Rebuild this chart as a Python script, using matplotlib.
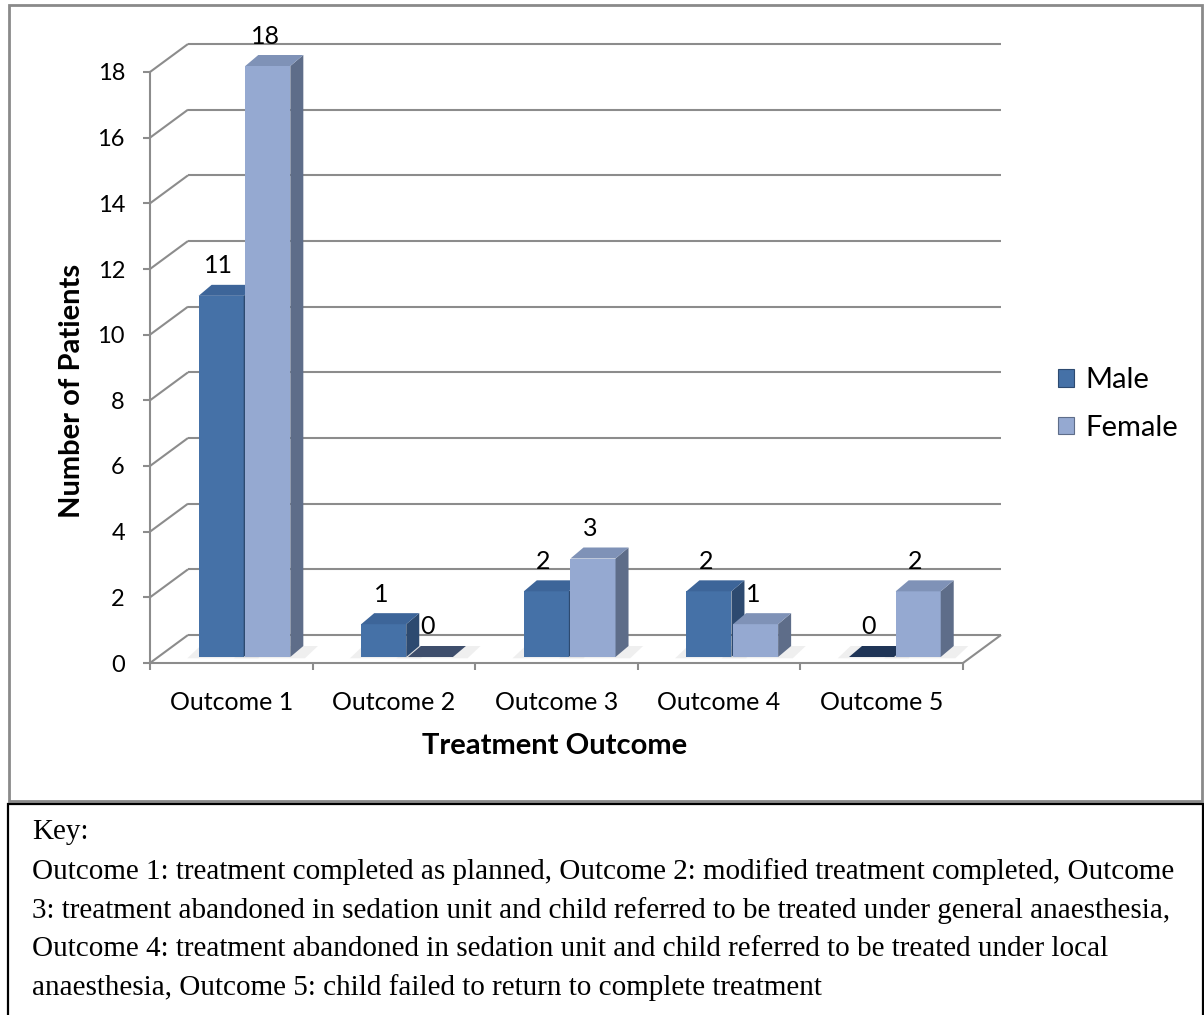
import matplotlib
matplotlib.use("Agg")
import matplotlib.pyplot as plt
from matplotlib.patches import Polygon, Rectangle, Patch
import numpy as np

# ---- data -------------------------------------------------------------
outcomes = ["Outcome 1", "Outcome 2", "Outcome 3", "Outcome 4", "Outcome 5"]
male = [11, 1, 2, 2, 0]
female = [18, 0, 3, 1, 2]
series_names = ["Male", "Female"]
y_ticks = [0, 2, 4, 6, 8, 10, 12, 14, 16, 18]
x_title = "Treatment Outcome"
y_title = "Number of Patients"
key_lines = [
    "Key:",
    "Outcome 1: treatment completed as planned, Outcome 2: modified treatment completed, Outcome",
    "3: treatment abandoned in sedation unit and child referred to be treated under general anaesthesia,",
    "Outcome 4: treatment abandoned in sedation unit and child referred to be treated under local",
    "anaesthesia, Outcome 5: child failed to return to complete treatment",
]

# ---- styling ----------------------------------------------------------
SANS = "Lato"
SERIF = "Liberation Serif"
GRID = "#8c8c8c"
FACES = {
    "Male": dict(front="#4571a7", side="#2d4a70", top="#3d6599", flat="#1f3557"),
    "Female": dict(front="#95a9d1", side="#5e6d89", top="#7f92b7", flat="#3e4e6c"),
}

W, H, DPI = 1204, 1015, 100
fig = plt.figure(figsize=(W / DPI, H / DPI), dpi=DPI)
fig.patch.set_facecolor("white")


def fx(px):
    return px / W


def fy(py):
    return 1 - py / H


# front plane of the plot area, in pixels
P_LEFT, P_RIGHT, P_TOP, P_BOTTOM = 150, 963, 72, 663
ax = fig.add_axes([fx(P_LEFT), fy(P_BOTTOM), (P_RIGHT - P_LEFT) / W, (P_BOTTOM - P_TOP) / H])
ax.set_xlim(0, len(outcomes))
ax.set_ylim(0, max(y_ticks))
ax.patch.set_alpha(0)


def px_to_data(dx, dy):
    """Convert a screen offset in pixels (dy upwards) into data units."""
    x0, y0 = ax.transData.transform((0, 0))
    x1, y1 = ax.transData.inverted().transform((x0 + dx, y0 + dy))
    return x1, y1


wall_dx, wall_dy = px_to_data(38, 28)      # depth of the back wall
shift_dx, shift_dy = px_to_data(8, 6)      # bars sit part-way into the floor
depth_dx, depth_dy = px_to_data(13, 11)    # depth of each bar

line_kw = dict(color=GRID, lw=1.5, clip_on=False, solid_capstyle="butt")
n = len(outcomes)

# back wall gridlines and side-wall diagonals
for v in y_ticks:
    ax.plot([wall_dx, n + wall_dx], [v + wall_dy, v + wall_dy], zorder=1, **line_kw)
    ax.plot([0, wall_dx], [v, v + wall_dy], zorder=1, **line_kw)
# right edge of the floor
ax.plot([n, n + wall_dx], [0, wall_dy], zorder=1, **line_kw)

# axes: front edges
for side in ("top", "right"):
    ax.spines[side].set_visible(False)
for side in ("left", "bottom"):
    ax.spines[side].set_color(GRID)
    ax.spines[side].set_linewidth(1.5)
    ax.spines[side].set_zorder(2)

ax.set_yticks(y_ticks)
ax.set_yticklabels([str(v) for v in y_ticks])
ax.tick_params(axis="y", direction="out", length=5, width=1.5, color=GRID,
               labelsize=17, pad=13, labelcolor="black")
ax.set_xticks(np.arange(n + 1))
ax.set_xticklabels([])
ax.set_xticks(np.arange(n) + 0.5, minor=True)
ax.set_xticklabels(outcomes, minor=True)
ax.tick_params(axis="x", which="major", direction="out", length=5, width=1.5, color=GRID)
ax.tick_params(axis="x", which="minor", length=0, labelsize=18, pad=20, labelcolor="black")
for lab in ax.get_xticklabels(minor=True) + ax.get_yticklabels():
    lab.set_fontfamily(SANS)

# ---- 3-D looking columns -----------------------------------------------
bar_w = 0.277
offsets = {"Male": 0.299, "Female": 0.586}
values = {"Male": male, "Female": female}

z = 3.0
for i in range(n):
    for name in series_names:
        v = values[name][i]
        c = FACES[name]
        xl = i + offsets[name]
        xr = xl + bar_w
        b = shift_dy
        # soft shadow on the floor
        shadow = Polygon([(xl - 0.07, b - 0.04), (xr + 0.09, b - 0.04),
                          (xr + 0.09 + depth_dx, b + depth_dy),
                          (xl - 0.07 + depth_dx, b + depth_dy)],
                         closed=True, facecolor="#d8d8d8", edgecolor="none",
                         alpha=0.4, clip_on=False, zorder=2.5)
        ax.add_patch(shadow)
        bars = ax.bar([xl], [v], width=bar_w, bottom=b, align="edge",
                      color=c["front"], edgecolor="none", clip_on=False)
        bars[0].set_zorder(z)
        side = Polygon([(xr, b), (xr + depth_dx, b + depth_dy),
                        (xr + depth_dx, b + v + depth_dy), (xr, b + v)],
                       closed=True, facecolor=c["side"], edgecolor="none",
                       clip_on=False, zorder=z)
        top = Polygon([(xl, b + v), (xr, b + v), (xr + depth_dx, b + v + depth_dy),
                       (xl + depth_dx, b + v + depth_dy)],
                      closed=True, facecolor=c["top"] if v > 0 else c["flat"],
                      edgecolor="none", clip_on=False, zorder=z)
        ax.add_patch(side)
        ax.add_patch(top)
        ax.annotate(str(v), xy=(xl + bar_w / 2, b + v), xytext=(-2, 21.6),
                    textcoords="offset points", ha="center", va="center",
                    fontsize=18, fontfamily=SANS, color="black", zorder=20,
                    annotation_clip=False)
        z += 0.1

# ---- titles and legend -------------------------------------------------
fig.text(fx(555), fy(746), x_title, ha="center", va="center",
         fontsize=21, fontweight="bold", fontfamily=SANS)
fig.text(fx(72), fy(391), y_title, ha="center", va="center", rotation=90,
         fontsize=21, fontweight="bold", fontfamily=SANS)

handles = [Patch(facecolor=FACES[s]["front"], edgecolor=FACES[s]["side"], lw=0.8)
           for s in series_names]
fig.legend(handles, series_names, loc="center left",
           bbox_to_anchor=(fx(1058), fy(404)), frameon=False, borderpad=0,
           borderaxespad=0, handlelength=0.55, handleheight=0.55,
           handletextpad=0.4, labelspacing=0.75, prop=dict(family=SANS, size=21))

# ---- frames ------------------------------------------------------------
fig.add_artist(Rectangle((fx(9), fy(801)), fx(1202 - 9), (801 - 5) / H,
                         transform=fig.transFigure, fill=False,
                         edgecolor="#8a8a8a", lw=2.0))
fig.add_artist(Rectangle((fx(8), fy(1030)), fx(1203 - 8), (1030 - 804) / H,
                         transform=fig.transFigure, fill=False,
                         edgecolor="black", lw=1.6))

# ---- key text ----------------------------------------------------------
key_y = [832, 872, 911, 949, 988]
for line, yy in zip(key_lines, key_y):
    fig.text(fx(32), fy(yy), line, ha="left", va="center",
             fontsize=21, fontfamily=SERIF, color="black")

fig.savefig("out.png", dpi=DPI, facecolor="white")
